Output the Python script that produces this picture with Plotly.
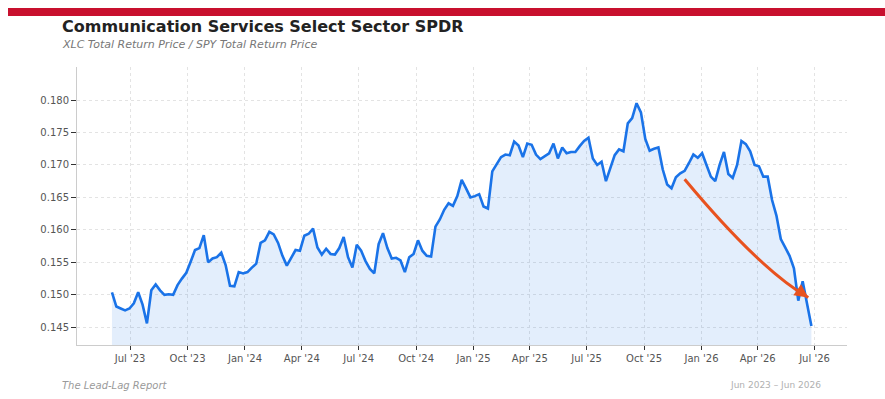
import plotly.graph_objects as go
import pandas as pd

# ---- data (weekly) ----
start_date = "2023-06-02"
ratio = [
    0.1504, 0.1482, 0.1479, 0.1476, 0.1479, 0.1487, 0.1504, 0.1485, 0.1456, 0.1507,
    0.1516, 0.1507, 0.1500, 0.1501, 0.1500, 0.1515, 0.1525, 0.1534, 0.1551, 0.1569,
    0.1572, 0.1592, 0.1550, 0.1556, 0.1558, 0.1565, 0.1546, 0.1514, 0.1513, 0.1535,
    0.1533, 0.1535, 0.1542, 0.1548, 0.1580, 0.1584, 0.1597, 0.1593, 0.1580, 0.1560,
    0.1545, 0.1558, 0.1569, 0.1568, 0.1591, 0.1594, 0.1602, 0.1573, 0.1562, 0.1571,
    0.1563, 0.1562, 0.1572, 0.1589, 0.1558, 0.1542, 0.1577, 0.1568, 0.1552, 0.1540,
    0.1533, 0.1578, 0.1595, 0.1572, 0.1556, 0.1557, 0.1553, 0.1535, 0.1558, 0.1563,
    0.1584, 0.1568, 0.1560, 0.1559, 0.1605, 0.1616, 0.1631, 0.1641, 0.1637, 0.1652,
    0.1677, 0.1664, 0.1650, 0.1652, 0.1655, 0.1636, 0.1633, 0.1690, 0.1702, 0.1712,
    0.1716, 0.1715, 0.1736, 0.1730, 0.1712, 0.1733, 0.1731, 0.1716, 0.1709, 0.1714,
    0.1718, 0.1733, 0.1710, 0.1727, 0.1718, 0.1720, 0.1720, 0.1729, 0.1737, 0.1742,
    0.1710, 0.1700, 0.1705, 0.1675, 0.1695, 0.1715, 0.1724, 0.1721, 0.1764, 0.1772,
    0.1795, 0.1781, 0.1740, 0.1722, 0.1725, 0.1727, 0.1693, 0.1670, 0.1664, 0.1681,
    0.1687, 0.1691, 0.1703, 0.1716, 0.1711, 0.1718, 0.1700, 0.1682, 0.1675, 0.1700,
    0.1720, 0.1686, 0.1680, 0.1700, 0.1737, 0.1732, 0.1721, 0.1700, 0.1698, 0.1682,
    0.1682, 0.1646, 0.1622, 0.1586, 0.1573, 0.1560, 0.1541, 0.1491, 0.1521, 0.1486,
    0.1452,
]
dates = pd.date_range(start=start_date, periods=len(ratio), freq="7D")

y_ticks = [0.145, 0.150, 0.155, 0.160, 0.165, 0.170, 0.175, 0.180]

title_text = "Communication Services Select Sector SPDR"
subtitle_text = "XLC Total Return Price / SPY Total Return Price"
source_text = "The Lead-Lag Report"
period_text = "Jun 2023 \u2013 Jun 2026"

# arrow annotation anchors (data space)
arrow_start = ("2025-12-05", 0.1678)
arrow_ctrl = ("2026-04-05", 0.15385)
arrow_end = ("2026-06-21", 0.1496)
arrow_tail = ("2026-06-05", 0.15067)

LINE = "#1A73E8"
ARROW = "#E8521F"
FONT = "DejaVu Sans"

fig = go.Figure()
fig.add_trace(go.Scatter(
    x=dates, y=ratio, mode="lines",
    line=dict(color=LINE, width=2.6),
    fill="tozeroy", fillcolor="rgba(26,115,232,0.12)",
    hoverinfo="skip", showlegend=False,
))

fig.update_layout(
    width=885, height=399,
    margin=dict(l=77, r=38, t=67, b=54),
    paper_bgcolor="white", plot_bgcolor="white",
    font=dict(family=FONT, size=10, color="#555555"),
    xaxis=dict(
        range=["2023-04-07", "2026-08-22"],
        tick0="2023-07-01", dtick="M3", tickformat="%b '%y",
        showgrid=True, gridcolor="#e3e3e3", griddash="dot", gridwidth=1,
        showline=True, linecolor="#cccccc", linewidth=1,
        ticks="outside", ticklen=4, tickcolor="#333333", tickwidth=1,
        tickfont=dict(family=FONT, size=10, color="#555555"),
        zeroline=False,
    ),
    yaxis=dict(
        range=[0.14228, 0.18508],
        tickmode="array", tickvals=y_ticks, tickformat=".3f",
        showgrid=True, gridcolor="#e3e3e3", griddash="dot", gridwidth=1,
        showline=True, linecolor="#cccccc", linewidth=1,
        ticks="outside", ticklen=5, tickcolor="#333333", tickwidth=1,
        tickfont=dict(family=FONT, size=10, color="#555555"),
        zeroline=False,
    ),
)

# red header bar
fig.add_shape(type="rect", xref="paper", yref="paper",
              x0=-0.0896, x1=1.0494, y0=1.1835, y1=1.2122,
              fillcolor="#C8102E", line=dict(width=0), layer="above")

# curved arrow
fig.add_shape(
    type="path", xref="x", yref="y",
    path=f"M {arrow_start[0]},{arrow_start[1]} Q {arrow_ctrl[0]},{arrow_ctrl[1]} {arrow_end[0]},{arrow_end[1]}",
    line=dict(color=ARROW, width=3), layer="above",
)
fig.add_annotation(
    x=arrow_end[0], y=arrow_end[1], ax=arrow_tail[0], ay=arrow_tail[1],
    xref="x", yref="y", axref="x", ayref="y",
    text="", showarrow=True, arrowhead=2, arrowsize=0.9, arrowwidth=3,
    arrowcolor=ARROW,
)

# texts
fig.add_annotation(text=f"<b>{title_text}</b>", xref="paper", yref="paper",
                   x=-0.0221, y=1.1439, xanchor="left", yanchor="middle",
                   showarrow=False, font=dict(family=FONT, size=16, color="#222222"))
fig.add_annotation(text=f"<i>{subtitle_text}</i>", xref="paper", yref="paper",
                   x=-0.0221, y=1.0827, xanchor="left", yanchor="middle",
                   showarrow=False, font=dict(family=FONT, size=11, color="#777777"))
fig.add_annotation(text=f"<i>{source_text}</i>", xref="paper", yref="paper",
                   x=-0.0221, y=-0.1439, xanchor="left", yanchor="middle",
                   showarrow=False, font=dict(family=FONT, size=10, color="#9a9a9a"))
fig.add_annotation(text=period_text, xref="paper", yref="paper",
                   x=0.9688, y=-0.1439, xanchor="right", yanchor="middle",
                   showarrow=False, font=dict(family=FONT, size=9, color="#b0b0b0"))

fig.write_html("out.html")
